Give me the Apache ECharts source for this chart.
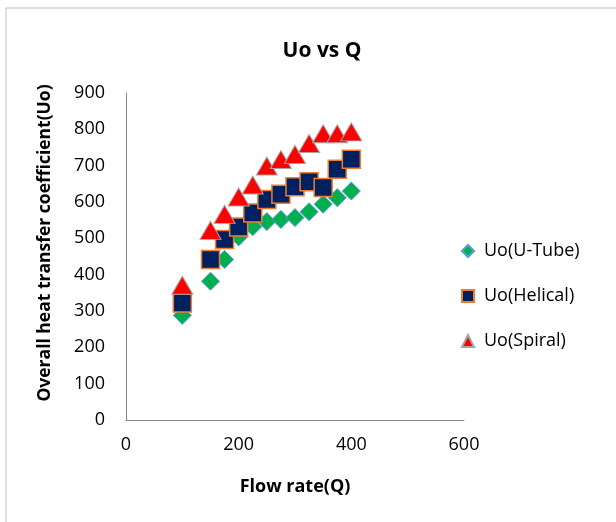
<!DOCTYPE html>
<html><head><meta charset="utf-8">
<script src="https://cdn.jsdelivr.net/npm/echarts@6/dist/echarts.min.js"></script>
<style>html,body{margin:0;padding:0;background:#fff}#c{width:616px;height:522px}</style>
</head><body><div id="c"></div>
<script>
const flowRate = [100,150,175,200,225,250,275,300,325,350,375,400];
const uoUTube  = [288,382,442,504,532,546,552,557,573,594,612,630];
const uoHelical= [322,442,497,531,570,607,621,642,656,640,690,718];
const uoSpiral = [371,522,566,614,647,699,717,731,761,788,788,793];
const xTicks = {min:0,max:600,interval:200};
const yTicks = {min:0,max:900,interval:100};
const seriesNames = ['Uo(U-Tube)','Uo(Helical)','Uo(Spiral)'];

const FONT = 'Open Sans';
const pair = (ys) => flowRate.map((x,i)=>[x,ys[i]]);
const chart = echarts.init(document.getElementById('c'), null, {renderer:'canvas'});
chart.setOption({
  animation:false,
  backgroundColor:'#fff',
  title:{text:'Uo vs Q',left:317,top:36,textAlign:'center',
    textStyle:{fontFamily:FONT,fontWeight:'bold',fontSize:21,color:'#000'}},
  grid:{left:126,top:93,width:338,height:327},
  xAxis:{type:'value',min:xTicks.min,max:xTicks.max,interval:xTicks.interval,
    name:'Flow rate(Q)',nameLocation:'middle',nameGap:58,
    nameTextStyle:{fontFamily:FONT,fontWeight:'bold',fontSize:18,color:'#000'},
    axisLine:{show:true,lineStyle:{color:'#888',width:1}},axisTick:{show:false},
    splitLine:{show:false},
    axisLabel:{fontFamily:FONT,fontSize:18,color:'#000',margin:16}},
  yAxis:{type:'value',min:yTicks.min,max:yTicks.max,interval:yTicks.interval,
    axisLine:{show:true,lineStyle:{color:'#888',width:1}},axisTick:{show:false},
    splitLine:{show:false},
    axisLabel:{fontFamily:FONT,fontSize:18,color:'#000',margin:21}},
  legend:{orient:'vertical',left:456,top:237,itemGap:27,itemWidth:12,itemHeight:12,
    textStyle:{fontFamily:FONT,fontSize:18,color:'#000',padding:[0,0,0,5]},
    data:seriesNames},
  graphic:[
    {type:'rect',shape:{x:6,y:8,width:640,height:560},style:{fill:'none',stroke:'#bfbfbf',lineWidth:1},silent:true},
    {type:'text',x:45,y:243,rotation:Math.PI/2,
      style:{text:'Overall heat transfer coefficient(Uo)',fontFamily:FONT,fontWeight:'bold',fontSize:17.5,fill:'#000',
        align:'center',verticalAlign:'middle'}}
  ],
  series:[
    {name:seriesNames[0],type:'scatter',symbol:'diamond',symbolSize:[18,18],data:pair(uoUTube),
      itemStyle:{color:'#00B050',borderColor:'#5B9BD5',borderWidth:1,opacity:1}},
    {name:seriesNames[1],type:'scatter',symbol:'rect',symbolSize:[18,18],data:pair(uoHelical),
      itemStyle:{color:'#002060',borderColor:'#ED7D31',borderWidth:1.5,opacity:1}},
    {name:seriesNames[2],type:'scatter',symbol:'triangle',symbolSize:[21,18],data:pair(uoSpiral),
      itemStyle:{color:'#FF0000',borderColor:'#A5A5A5',borderWidth:1,opacity:1}}
  ]
});
</script></body></html>
